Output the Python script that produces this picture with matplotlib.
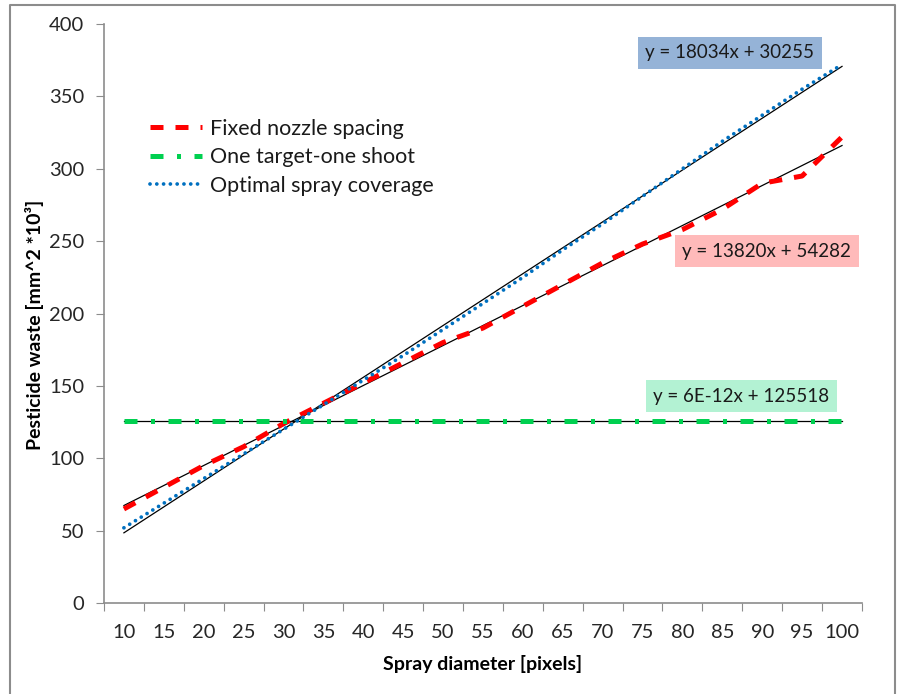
import numpy as np
import matplotlib
matplotlib.use("Agg")
import matplotlib.pyplot as plt
from matplotlib.lines import Line2D

plt.rcParams['font.family'] = ['Lato', 'DejaVu Sans']

# data (values in mm^2 * 10^3)
diameters = [10, 15, 20, 25, 30, 35, 40, 45, 50, 55, 60, 65, 70, 75, 80, 85, 90, 95, 100]
fixed_nozzle = [65, 80, 95, 108, 124, 138, 152, 166, 180, 190, 205, 220, 235, 248, 258, 272, 290, 295, 322]
one_target = [125.5] * 19
optimal_cov = [52, 69, 86, 103, 120, 137, 154, 171, 189, 207, 225, 244, 262, 281, 300, 319, 337, 355, 372]
series_names = ["Fixed nozzle spacing", "One target-one shoot", "Optimal spray coverage"]
equations = ["y = 13820x + 54282", "y = 6E-12x + 125518", "y = 18034x + 30255"]

x = np.arange(1, len(diameters) + 1)

fig = plt.figure(figsize=(9.04, 6.94), dpi=100)
ax = fig.add_axes([0.115, 0.131, 0.8385, 0.8344])

# outer frame of the chart
fig.add_artist(Line2D([10/904, 10/904, 895/904, 895/904], [0, 1 - 5/694, 1 - 5/694, 0],
                      transform=fig.transFigure, color='#8c8c8c', lw=1.5))

ax.plot(x, fixed_nozzle, color='#ff0000', lw=3.6, dashes=(2.6, 2.4), label=series_names[0])
ax.plot(x, one_target, color='#00d050', lw=3.6, dashes=(2.6, 2.7, 0.8, 2.7), label=series_names[1])
ax.plot(x, optimal_cov, color='#0070c0', lw=2.7, dashes=(0.01, 1.8), dash_capstyle='round',
        label=series_names[2])

# linear trendlines
for ys in [fixed_nozzle, one_target, optimal_cov]:
    k, b = np.polyfit(x, ys, 1)
    ax.plot(x, k * x + b, color='black', lw=0.9, zorder=1)

ax.set_xlim(0.5, len(diameters) + 0.5)
ax.set_ylim(0, 400)
ax.set_yticks(np.arange(0, 401, 50))
ax.set_xticks(np.arange(0.5, len(diameters) + 1, 1))
ax.set_xticklabels([])
ax.set_xticks(x, minor=True)
ax.set_xticklabels([str(d) for d in diameters], minor=True)
ax.tick_params(axis='x', which='major', length=6, color='#8c8c8c', direction='out')
ax.tick_params(axis='x', which='minor', length=0, pad=15, labelsize=14.5, labelcolor='#262626')
ax.tick_params(axis='y', length=6, color='#8c8c8c', labelsize=14.5, labelcolor='#262626', pad=8)

for s in ['top', 'right']:
    ax.spines[s].set_visible(False)
for s in ['left', 'bottom']:
    ax.spines[s].set_color('#8c8c8c')
    ax.spines[s].set_linewidth(1.2)

ax.set_xlabel("Spray diameter [pixels]", fontsize=14, fontweight='bold', labelpad=10)
ax.set_ylabel("Pesticide waste [mm^2 *10³]", fontsize=14, fontweight='bold', labelpad=4)
ax.yaxis.label.set_y(0.48)

leg = ax.legend(loc='upper left', bbox_to_anchor=(0.035, 0.87), frameon=False, fontsize=15.5,
                handlelength=2.4, handletextpad=0.4, labelspacing=0.4)
for t in leg.get_texts():
    t.set_color('#1a1a1a')

# trendline equation labels
ax.text(14.07, 380, equations[2], fontsize=13.5, color='#1a1a1a', va='center', ha='left',
        bbox=dict(boxstyle='square,pad=0.4', fc='#95b3d7', ec='none'))
ax.text(15.0, 243, equations[0], fontsize=13.5, color='#1a1a1a', va='center', ha='left',
        bbox=dict(boxstyle='square,pad=0.4', fc='#ffbaba', ec='none'))
ax.text(14.27, 143, equations[1], fontsize=13.5, color='#1a1a1a', va='center', ha='left',
        bbox=dict(boxstyle='square,pad=0.4', fc='#b3f2d3', ec='none'))

fig.savefig("out.png", dpi=100)
